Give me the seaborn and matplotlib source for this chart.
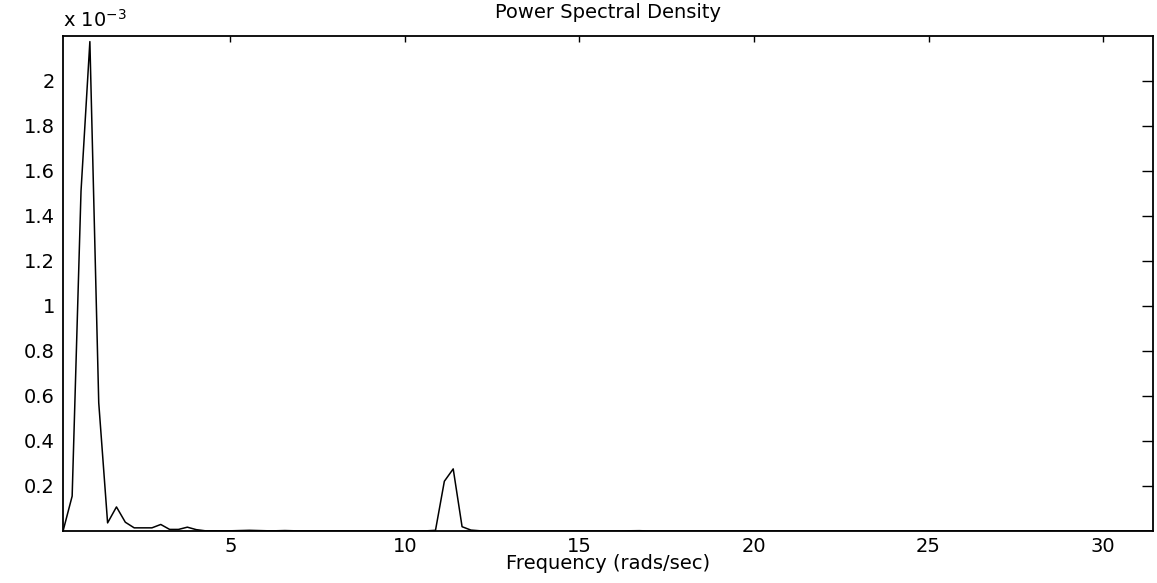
import numpy as np
import pandas as pd
import matplotlib
matplotlib.use("Agg")
import matplotlib.pyplot as plt
from matplotlib.ticker import FuncFormatter
import seaborn as sns

# frequency grid (rads/sec), evenly spaced
freq_start = 0.21
freq_stop = 31.44
n_points = 124

# PSD values in units of 1e-3
psd_low = [0.004, 0.155, 1.51, 2.175, 0.57, 0.036, 0.107, 0.039, 0.014, 0.014,
           0.014, 0.029, 0.007, 0.007, 0.017, 0.006, 0.001, 0.001, 0.0005, 0.001,
           0.002, 0.003, 0.002, 0.001, 0.001, 0.002, 0.001, 0.0005, 0.0005, 0.0005]
psd_mid = [0.0003, 0.0003, 0.0003, 0.0002, 0.0002, 0.0002, 0.0002, 0.0003, 0.0003, 0.0003,
           0.0005, 0.0008, 0.003, 0.221, 0.276, 0.019, 0.004, 0.001, 0.0005, 0.0003]
psd_high = [0.0002] * (n_points - len(psd_low) - len(psd_mid))
psd_high[14] = 0.001
psd_high[15] = 0.0015
psd_high[61] = 0.001

freq = np.linspace(freq_start, freq_stop, n_points)
psd = np.array(psd_low + psd_mid + psd_high) * 1e-3
df = pd.DataFrame({"freq": freq, "psd": psd})

sns.set_style("white")
plt.rcParams["font.family"] = ["DejaVu Sans"]
plt.rcParams["font.size"] = 14
plt.rcParams["text.color"] = "black"
plt.rcParams["axes.labelcolor"] = "black"

fig = plt.figure(figsize=(11.57, 5.83), dpi=100)
ax = fig.add_axes([0.0547, 0.0892, 0.9421, 0.8491])

sns.lineplot(data=df, x="freq", y="psd", color="black", linewidth=1.1, ax=ax)

ax.set_xlim(freq_start, freq_stop)
ax.set_ylim(0, 2.2e-3)
ax.set_xticks([5, 10, 15, 20, 25, 30])
ax.set_yticks(np.arange(1, 11) * 0.2e-3)
ax.yaxis.set_major_formatter(FuncFormatter(lambda v, p: f"{v * 1e3:g}"))

for s in ax.spines.values():
    s.set_color("black")
    s.set_linewidth(1.3)
ax.tick_params(axis="both", direction="in", top=True, right=True,
               colors="black", labelsize=14, width=1.0)
ax.tick_params(axis="x", length=4.2, pad=4)
ax.tick_params(axis="y", length=7.7, pad=6)

ax.set_title("Power Spectral Density", fontsize=14, pad=13, color="black")
ax.set_xlabel("Frequency (rads/sec)", fontsize=14, labelpad=-1, color="black")
ax.set_ylabel("")
ax.text(0.0, 1.01, r"x 10$^{-3}$", transform=ax.transAxes, fontsize=14,
        ha="left", va="bottom", color="black")

fig.savefig("out.png", dpi=100)
